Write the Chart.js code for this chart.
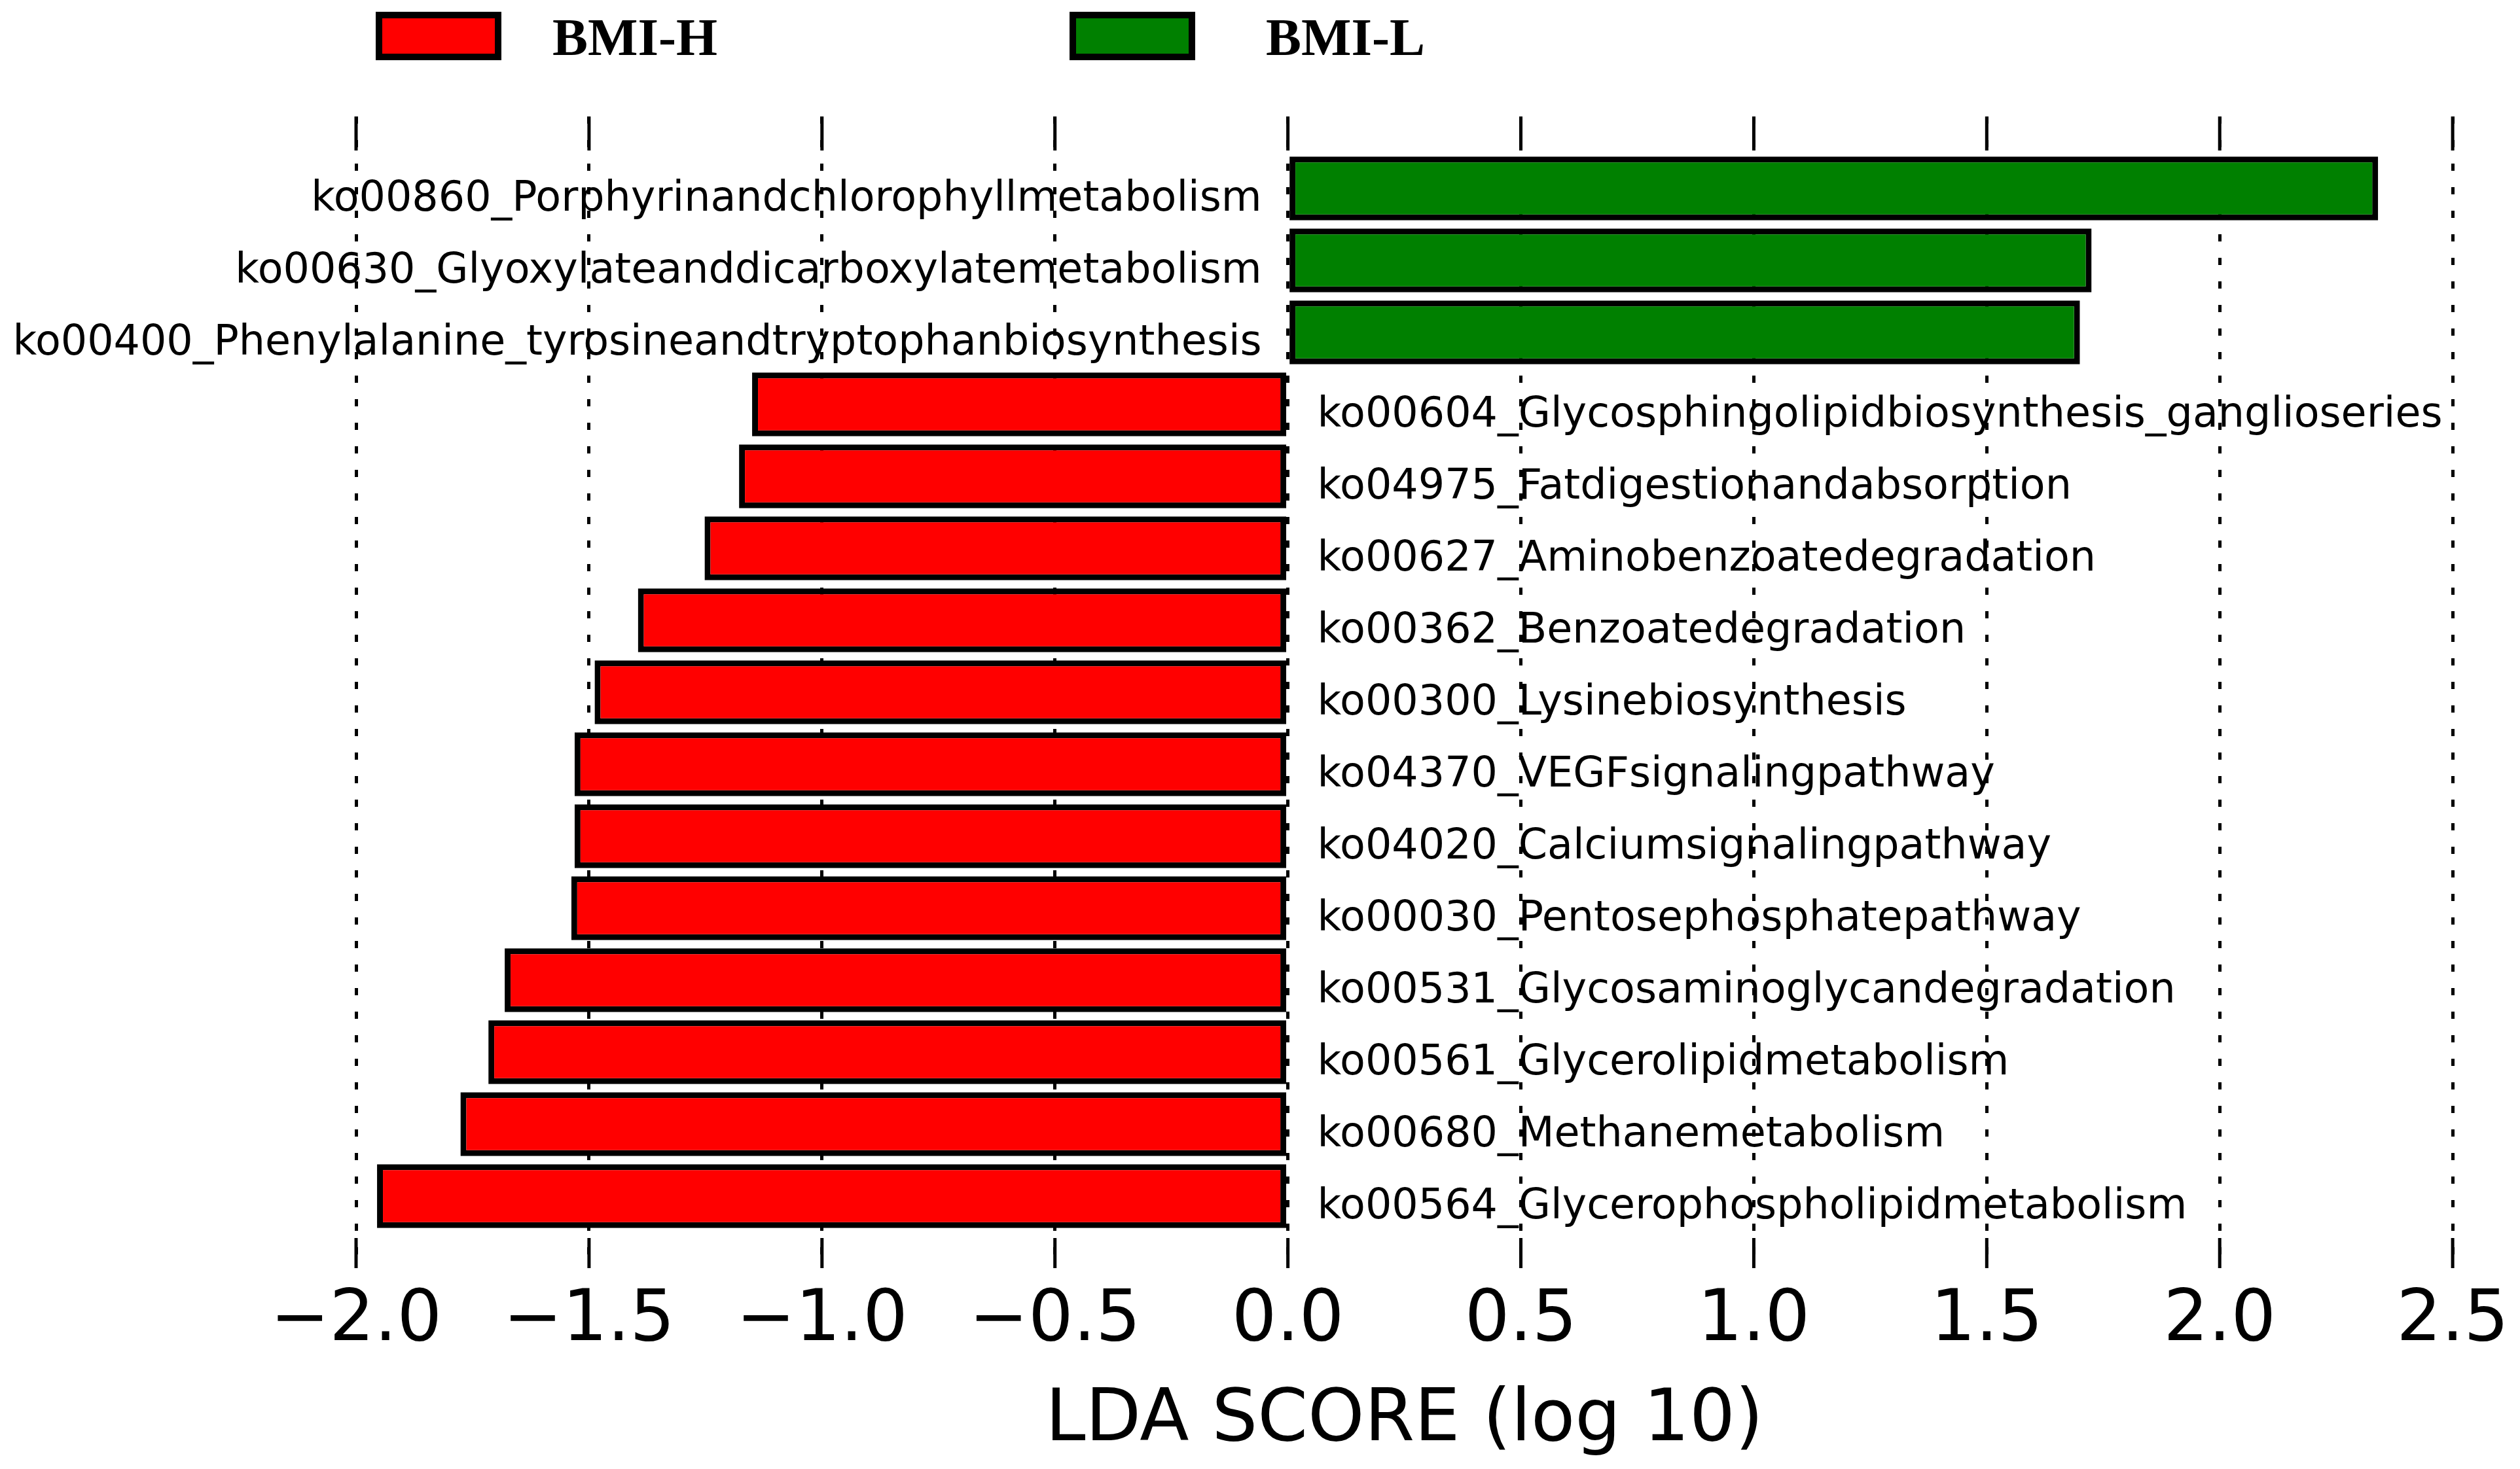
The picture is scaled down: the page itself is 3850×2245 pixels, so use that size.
<!DOCTYPE html>
<html>
<head>
<meta charset="utf-8">
<title>LDA SCORE (log 10)</title>
<script src="https://cdn.jsdelivr.net/npm/chart.js@4.4.1/dist/chart.umd.min.js"></script>
<style>
	html, body { margin: 0; padding: 0; background: #fff; }
	#wrap { width: 3850px; height: 2245px; }
</style>
</head>
<body>
<div id="wrap"><canvas id="lda-chart"></canvas></div>
<script>

// pathways, top to bottom
var features = [
	"ko00860_Porphyrinandchlorophyllmetabolism",
	"ko00630_Glyoxylateanddicarboxylatemetabolism",
	"ko00400_Phenylalanine_tyrosineandtryptophanbiosynthesis",
	"ko00604_Glycosphingolipidbiosynthesis_ganglioseries",
	"ko04975_Fatdigestionandabsorption",
	"ko00627_Aminobenzoatedegradation",
	"ko00362_Benzoatedegradation",
	"ko00300_Lysinebiosynthesis",
	"ko04370_VEGFsignalingpathway",
	"ko04020_Calciumsignalingpathway",
	"ko00030_Pentosephosphatepathway",
	"ko00531_Glycosaminoglycandegradation",
	"ko00561_Glycerolipidmetabolism",
	"ko00680_Methanemetabolism",
	"ko00564_Glycerophospholipidmetabolism"
];

// LDA score (log 10), negative = BMI-H side
var ldaScores = [2.34, 1.725, 1.70, -1.15, -1.178, -1.252, -1.395, -1.488, -1.531, -1.531, -1.538, -1.681, -1.716, -1.776, -1.955];

var featureGroup = ["BMI-L", "BMI-L", "BMI-L", "BMI-H", "BMI-H", "BMI-H", "BMI-H", "BMI-H", "BMI-H", "BMI-H", "BMI-H", "BMI-H", "BMI-H", "BMI-H", "BMI-H"];

var groupNames = ["BMI-H", "BMI-L"];
var groupColors = ["#ff0000", "#008000"];

var xTickValues = [-2.0, -1.5, -1.0, -0.5, 0.0, 0.5, 1.0, 1.5, 2.0, 2.5];
var xTickLabels = ["\u22122.0", "\u22121.5", "\u22121.0", "\u22120.5", "0.0", "0.5", "1.0", "1.5", "2.0", "2.5"];

var axisTitle = "LDA SCORE (log 10)";

/**
 * one dataset per class, each bar sits on its own row index
 */
var datasets = [];
for (var g = 0; g < groupNames.length; g++) {
	var pts = [];
	for (var i = 0; i < features.length; i++) {
		if (featureGroup[i] == groupNames[g]) {
			pts.push({ x: ldaScores[i], y: i });
		}
	}
	datasets.push({
		label : groupNames[g],
		data : pts,
		backgroundColor : groupColors[g],
		borderColor : "#000",
		borderWidth : 9,
		borderSkipped : false,
		grouped : false,
		barPercentage : 0.885,
		categoryPercentage : 1.0
	});
}

// feature names beside the zero line
var featureLabels = {
	id : "featureLabels",
	afterDatasetsDraw : function(chart) {
		var ctx = chart.ctx;
		var xs = chart.scales.x, ys = chart.scales.y;
		var x0 = xs.getPixelForValue(0);
		ctx.save();
		ctx.font = "63.5px 'DejaVu Sans'";
		ctx.fillStyle = "#000";
		ctx.textBaseline = "alphabetic";
		for (var i = 0; i < features.length; i++) {
			var y = ys.getPixelForValue(i) + 34;
			if (ldaScores[i] > 0) {
				ctx.textAlign = "right";
				ctx.fillText(features[i], x0 - 40, y);
			} else {
				ctx.textAlign = "left";
				ctx.fillText(features[i], x0 + 45, y);
			}
		}
		ctx.restore();
	}
};

// short solid tick marks pointing inwards, top and bottom
var innerTicks = {
	id : "innerTicks",
	afterDraw : function(chart) {
		var ctx = chart.ctx;
		var a = chart.chartArea;
		var xs = chart.scales.x;
		ctx.save();
		ctx.strokeStyle = "#000";
		ctx.lineWidth = 5;
		for (var i = 0; i < xTickValues.length; i++) {
			var x = xs.getPixelForValue(xTickValues[i]);
			ctx.beginPath();
			ctx.moveTo(x, a.top);
			ctx.lineTo(x, a.top + 52);
			ctx.moveTo(x, a.bottom - 46);
			ctx.lineTo(x, a.bottom);
			ctx.stroke();
		}
		ctx.restore();
	}
};

// legend row above the plot
var classLegend = {
	id : "classLegend",
	afterDraw : function(chart) {
		var ctx = chart.ctx;
		var boxX = [574, 1634];
		var textX = [844, 1934];
		ctx.save();
		for (var g = 0; g < chart.data.datasets.length; g++) {
			var ds = chart.data.datasets[g];
			ctx.fillStyle = ds.backgroundColor;
			ctx.fillRect(boxX[g], 18, 192, 74);
			ctx.strokeStyle = "#000";
			ctx.lineWidth = 10;
			ctx.strokeRect(boxX[g] + 5, 23, 182, 64);
			ctx.fillStyle = "#000";
			ctx.font = "bold 81px 'Liberation Serif'";
			ctx.textAlign = "left";
			ctx.textBaseline = "alphabetic";
			ctx.fillText(ds.label, textX[g], 84);
		}
		ctx.restore();
	}
};

var ctx = document.getElementById("lda-chart");

var options = {
	responsive : true,
	maintainAspectRatio : false,
	devicePixelRatio : 1,
	animation : false,
	indexAxis : "y",
	layout : {
		padding : { top : 178, left : 544, right : 94, bottom : 0 }
	},
	plugins : {
		legend : { display : false },
		tooltip : { enabled : false }
	},
	scales : {
		x : {
			type : "linear",
			min : -2.0,
			max : 2.5,
			z : 1,
			afterBuildTicks : function(scale) {
				scale.ticks = xTickValues.map(function(v) { return { value : v }; });
			},
			afterFit : function(scale) {
				// keep the plot bottom where the reference has it
				scale.height = 307;
			},
			grid : {
				color : "#000",
				lineWidth : 5,
				drawTicks : false
			},
			border : {
				display : false,
				dash : [11, 25]
			},
			ticks : {
				autoSkip : false,
				maxRotation : 0,
				padding : 17,
				color : "#000",
				font : { family : "'DejaVu Sans'", size : 108 },
				callback : function(value) {
					var k = xTickValues.indexOf(Math.round(value * 10) / 10);
					return k >= 0 ? xTickLabels[k] : "";
				}
			},
			title : {
				display : true,
				text : axisTitle,
				color : "#000",
				font : { family : "'DejaVu Sans'", size : 110 },
				padding : { top : 0, bottom : 7 }
			}
		},
		y : {
			type : "linear",
			min : -1,
			max : 15,
			offset : false,
			reverse : true,
			display : false,
			ticks : { stepSize : 1 }
		}
	}
};

var chart = new Chart(ctx, {
	type : "bar",
	data : { datasets : datasets },
	options : options,
	plugins : [featureLabels, innerTicks, classLegend]
});

</script>
</body>
</html>
